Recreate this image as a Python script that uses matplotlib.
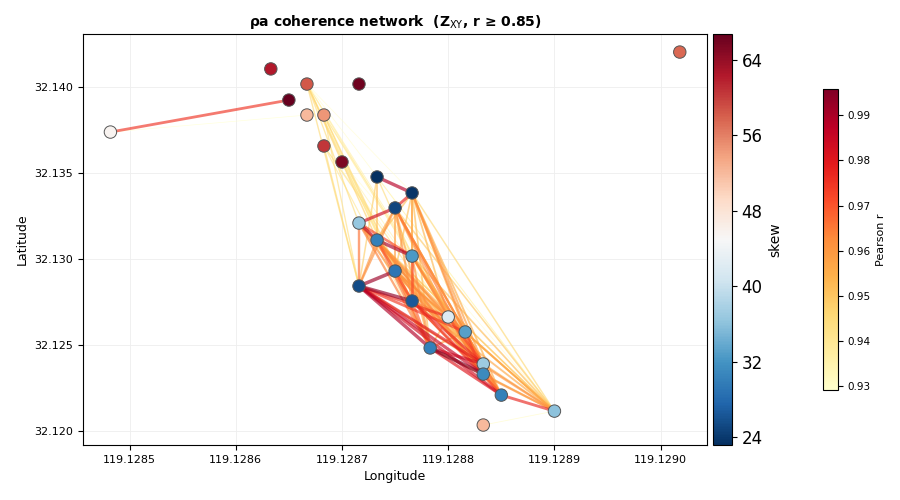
import matplotlib
matplotlib.use('Agg')
import matplotlib.pyplot as plt
from matplotlib.collections import LineCollection
from matplotlib.colors import Normalize
import matplotlib.cm as cm

# station coordinates and skew
lon = [119.128482, 119.128633, 119.128650, 119.128667, 119.128716, 119.128667,
       119.128683, 119.128683, 119.128700, 119.128733, 119.128766, 119.128750,
       119.128716, 119.128733, 119.128766, 119.128750, 119.128716, 119.128766,
       119.128800, 119.128816, 119.128783, 119.128833, 119.128833, 119.128850,
       119.128900, 119.128833, 119.129018]
lat = [32.13738, 32.14105, 32.13924, 32.14017, 32.14017, 32.13837,
       32.13837, 32.13657, 32.13564, 32.13477, 32.13384, 32.13297,
       32.13209, 32.13110, 32.13017, 32.12930, 32.12843, 32.12756,
       32.12663, 32.12576, 32.12483, 32.12390, 32.12331, 32.12209,
       32.12116, 32.12035, 32.14203]
skew = [45.5, 62.5, 66.76, 58.5, 66.2, 52.0,
        54.5, 60.5, 65.5, 23.15, 23.6, 25.0,
        36.5, 30.0, 32.5, 29.0, 25.5, 26.5,
        42.0, 33.0, 30.0, 37.0, 31.0, 30.0,
        36.0, 52.0, 57.5]

# edges: (station a, station b, pearson r)
edges = [
    (0, 2, 0.975), (0, 5, 0.9292), (25, 24, 0.931),
    (9, 10, 0.988), (10, 11, 0.978), (11, 12, 0.984), (12, 13, 0.986),
    (13, 14, 0.990), (12, 14, 0.972), (15, 16, 0.992), (16, 17, 0.993),
    (16, 20, 0.989), (16, 22, 0.985), (16, 23, 0.983), (16, 18, 0.976),
    (16, 19, 0.974), (16, 21, 0.980), (20, 22, 0.9958), (20, 21, 0.984),
    (20, 23, 0.980), (17, 22, 0.975), (17, 21, 0.977), (18, 21, 0.972),
    (19, 22, 0.973), (23, 24, 0.977), (14, 17, 0.972), (13, 17, 0.970),
    (17, 20, 0.968),
    (12, 16, 0.966), (11, 16, 0.962), (13, 16, 0.960), (11, 13, 0.956),
    (11, 15, 0.958), (10, 13, 0.952), (10, 14, 0.954), (10, 15, 0.951),
    (10, 17, 0.956), (10, 18, 0.953), (10, 19, 0.957), (10, 20, 0.952),
    (10, 21, 0.959), (10, 22, 0.962), (10, 23, 0.955), (11, 17, 0.961),
    (11, 18, 0.958), (11, 19, 0.963), (11, 20, 0.956), (11, 21, 0.960),
    (11, 22, 0.965), (11, 23, 0.959), (12, 17, 0.961), (12, 18, 0.957),
    (12, 20, 0.964), (12, 21, 0.952), (12, 22, 0.958), (13, 18, 0.962),
    (13, 19, 0.958), (13, 20, 0.966), (13, 21, 0.955), (13, 22, 0.960),
    (13, 23, 0.963), (14, 18, 0.959), (14, 19, 0.953), (14, 20, 0.961),
    (14, 21, 0.955), (14, 22, 0.964), (14, 23, 0.957), (15, 17, 0.968),
    (15, 18, 0.961), (15, 19, 0.958), (15, 20, 0.965), (15, 21, 0.956),
    (15, 22, 0.960), (15, 23, 0.962), (17, 18, 0.964), (17, 19, 0.960),
    (17, 23, 0.966), (18, 19, 0.959), (18, 20, 0.953), (18, 22, 0.961),
    (18, 23, 0.957), (19, 20, 0.958), (19, 21, 0.964), (19, 23, 0.962),
    (21, 22, 0.969), (21, 23, 0.964), (22, 23, 0.971),
    (10, 24, 0.946), (11, 24, 0.949), (14, 24, 0.952), (15, 24, 0.953),
    (17, 24, 0.956), (18, 24, 0.954), (19, 24, 0.957), (20, 24, 0.960),
    (21, 24, 0.955), (22, 24, 0.957), (16, 24, 0.962), (13, 24, 0.950),
    (12, 24, 0.942), (9, 24, 0.935),
    (9, 13, 0.952), (9, 16, 0.948), (9, 14, 0.944),
    (3, 16, 0.945), (3, 17, 0.940), (3, 20, 0.942), (3, 22, 0.938),
    (3, 23, 0.936), (3, 15, 0.934), (3, 24, 0.9305), (3, 13, 0.947),
    (3, 12, 0.944), (3, 10, 0.9295),
    (6, 16, 0.943), (6, 17, 0.946), (6, 20, 0.941), (6, 22, 0.939),
    (6, 23, 0.937),
    (7, 16, 0.944), (7, 20, 0.940), (7, 22, 0.942), (7, 21, 0.933),
    (8, 17, 0.938), (8, 23, 0.935), (8, 24, 0.9300),
]

r_vals = [e[2] for e in edges]
rmin, rmax = min(r_vals), max(r_vals)

fig = plt.figure(figsize=(9, 5), dpi=100)
ax = fig.add_axes([0.092, 0.11, 0.694, 0.822])

norm_r = Normalize(rmin, rmax)
cmap_r = plt.get_cmap('YlOrRd')
order = sorted(range(len(edges)), key=lambda k: edges[k][2])
segs = []
cols = []
widths = []
for k in order:
    a, b, r = edges[k]
    segs.append([(lon[a], lat[a]), (lon[b], lat[b])])
    cols.append(cmap_r(norm_r(r)))
    widths.append(0.5 + 2.2 * norm_r(r))
lc = LineCollection(segs, colors=cols, linewidths=widths, alpha=0.65, zorder=2)
ax.add_collection(lc)

sc = ax.scatter(lon, lat, c=skew, cmap='RdBu_r', vmin=min(skew), vmax=max(skew),
                s=80, edgecolors='#555555', linewidths=0.7, zorder=3)

ax.set_xlim(119.128456, 119.129044)
ax.set_ylim(32.11919, 32.14308)
ax.ticklabel_format(useOffset=False)
ax.xaxis.set_major_formatter(plt.FormatStrFormatter('%.4f'))
ax.yaxis.set_major_formatter(plt.FormatStrFormatter('%.3f'))
ax.tick_params(labelsize=8)
ax.grid(True, color='#eeeeee', linewidth=0.6)
ax.set_axisbelow(True)
ax.set_xlabel('Longitude', fontsize=9)
ax.set_ylabel('Latitude', fontsize=9)
ax.set_title(r'ρa coherence network  (Z$_{\mathrm{XY}}$, r ≥ 0.85)',
             fontsize=10, fontweight='bold')

cax1 = fig.add_axes([0.792, 0.11, 0.021, 0.822])
cb1 = fig.colorbar(sc, cax=cax1)
cb1.set_ticks([24, 32, 40, 48, 56, 64])
cb1.ax.tick_params(labelsize=12)
cb1.set_label('skew', fontsize=10)

cax2 = fig.add_axes([0.914, 0.22, 0.017, 0.602])
sm = cm.ScalarMappable(norm=norm_r, cmap=cmap_r)
cb2 = fig.colorbar(sm, cax=cax2)
cb2.set_ticks([0.93, 0.94, 0.95, 0.96, 0.97, 0.98, 0.99])
cb2.ax.tick_params(labelsize=7.5)
cb2.set_label('Pearson r', fontsize=8)

fig.savefig('out.png', dpi=100)
